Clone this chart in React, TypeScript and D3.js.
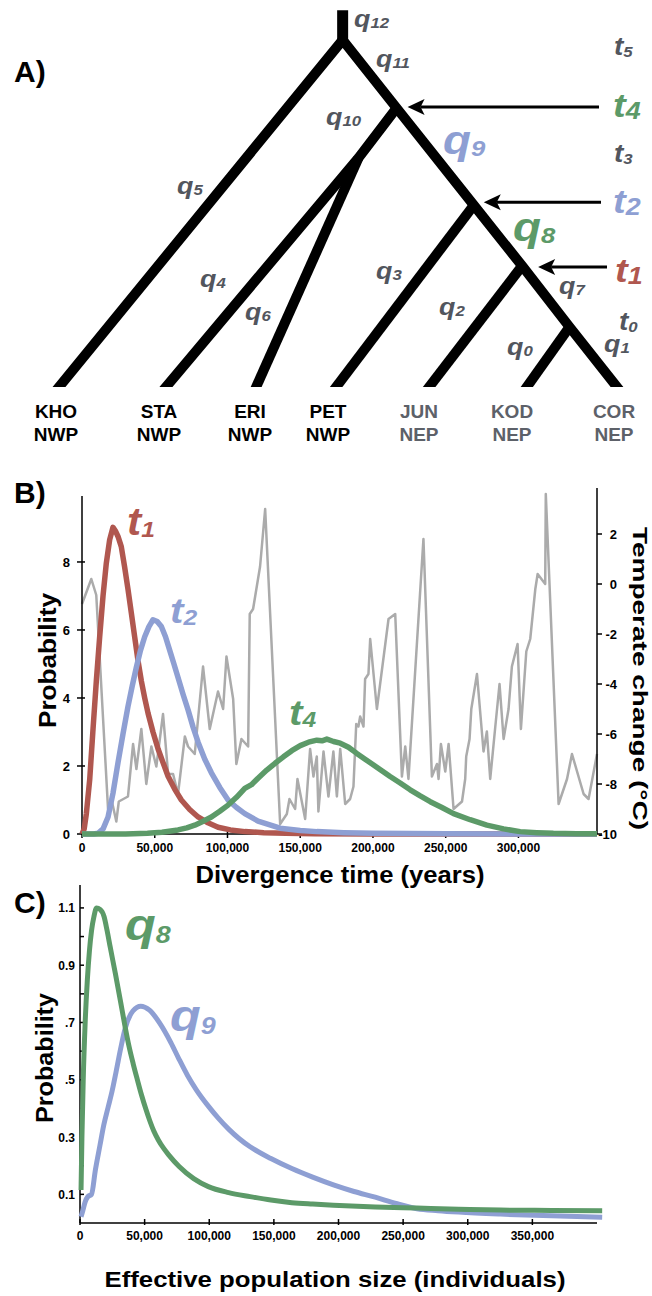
import React from "react";
import * as d3 from "d3";

// ---------------- DATA ----------------
// Panel A: tree
const taxa = ["KHO", "STA", "ERI", "PET", "JUN", "KOD", "COR"];
const regions = ["NWP", "NWP", "NWP", "NWP", "NEP", "NEP", "NEP"];
const nodeNames = ["stemTop", "root", "n4", "n3", "n2", "n1", "n0", "KHO", "STA", "ERI", "PET", "JUN", "KOD", "COR"];
const nodeU = [3.05, 3.05, 3.63, 3.22, 4.46, 4.98, 5.49, 0, 1.15, 2.12, 2.98, 3.98, 5.03, 6];
const nodeH = [1.086, 1, 0.804, 0.66, 0.524, 0.349, 0.173, 0, 0, 0, 0, 0, 0, 0];
const treePaths = [
  ["KHO", "root", "n4", "n2", "n1", "n0", "COR"],
  ["n4", "n3", "STA"],
  ["n3", "ERI"],
  ["n2", "PET"],
  ["n1", "JUN"],
  ["n0", "KOD"],
];

// Panel B: divergence-time posteriors (x in thousands of years)
const t1Years = [0, 1.5, 3, 5.3, 7.6, 9.85, 12.15, 14.45, 16.7, 19, 21.3, 22.9, 24.75, 27, 29.3, 31.6, 33.9, 36.2, 38.5, 40.8, 43.1, 45.4, 48.8, 52.3, 55.7, 59.15, 63.7, 68.3, 74, 79.8, 86.6, 93.5, 102, 112, 125, 140, 160, 200, 250, 300, 354];
const t1Prob = [0, 0.15, 0.6, 1.6, 3.1, 4.5, 5.8, 7.0, 7.96, 8.65, 9.02, 8.92, 8.75, 8.45, 7.85, 7.2, 6.5, 5.8, 5.1, 4.5, 4.0, 3.55, 3.0, 2.5, 2.1, 1.7, 1.32, 1.0, 0.72, 0.5, 0.33, 0.2, 0.12, 0.07, 0.04, 0.02, 0.01, 0, 0, 0, 0];

const t2Years = [0, 8, 11, 14.5, 17.9, 21.3, 24.75, 28.2, 31.6, 34.5, 37.35, 40.2, 43.1, 46, 48.8, 51.7, 54.55, 57.4, 60.3, 63.2, 66, 69.5, 72.9, 76.3, 79.8, 84.4, 88.95, 94.7, 100.4, 106.2, 111.9, 121, 136.2, 150, 161.4, 180, 200, 250, 354];
const t2Prob = [0, 0, 0.02, 0.15, 0.5, 1.2, 2.1, 2.95, 3.75, 4.35, 4.9, 5.4, 5.8, 6.1, 6.3, 6.25, 6.1, 5.8, 5.4, 5.0, 4.6, 4.1, 3.65, 3.15, 2.7, 2.2, 1.8, 1.37, 1.0, 0.78, 0.6, 0.38, 0.17, 0.1, 0.07, 0.04, 0.02, 0.005, 0];

const t4Years = [0, 30, 45, 55, 66, 72, 77.5, 83, 88.95, 94.7, 100.4, 106.2, 111.9, 116.5, 121, 127, 132.7, 138.45, 144.2, 150, 155.7, 161.4, 165, 168.3, 172.9, 177.5, 183.2, 188.9, 194.6, 200.4, 206.1, 211.8, 218.7, 225.6, 232.5, 239.4, 247.4, 255.4, 266.8, 278.3, 289.8, 301.2, 312.6, 324, 340, 354];
const t4Prob = [0, 0, 0.02, 0.05, 0.12, 0.18, 0.26, 0.37, 0.5, 0.67, 0.85, 1.08, 1.34, 1.45, 1.64, 1.88, 2.08, 2.27, 2.45, 2.6, 2.7, 2.76, 2.74, 2.79, 2.72, 2.67, 2.55, 2.37, 2.2, 2.03, 1.86, 1.69, 1.5, 1.3, 1.12, 0.95, 0.78, 0.6, 0.42, 0.26, 0.15, 0.07, 0.04, 0.02, 0.01, 0.005];

// Panel B: temperature record (thousands of years, °C)
const tempYears = [0, 6.4, 9.8, 17.9, 20.2, 23.6, 25.3, 31.6, 35.1, 37.4, 40.8, 44.2, 47.7, 51.1, 55.7, 59.2, 62.6, 66.0, 70.7, 72.9, 77.5, 83.2, 87.8, 93.5, 97.0, 99.3, 103.9, 106.1, 109.6, 114.2, 115.3, 117.6, 122.4, 125.9, 136.2, 140.8, 142.6, 146.5, 148.1, 153.4, 156.8, 159.1, 161.4, 162.5, 166.0, 169.4, 172.8, 175.2, 177.5, 180.9, 184.3, 186.6, 188.5, 190.0, 191.2, 193.5, 194.6, 196.9, 198.1, 202.7, 210.7, 215.3, 219.9, 222.2, 224.4, 234.7, 240.5, 244.0, 245.1, 246.7, 249.7, 252.0, 255.4, 261.2, 263.4, 264.1, 266.4, 267.6, 271.5, 276.0, 278.3, 280.6, 284.1, 287.0, 289.8, 293.2, 295.5, 299.4, 301.7, 305.4, 308.1, 311.6, 313.2, 318.4, 318.8, 327.6, 333.4, 336.8, 344.8, 348.2, 354.0];
const tempC = [-0.8, 0.2, -0.44, -9.0, -8.6, -9.5, -8.7, -8.5, -6.4, -7.4, -5.8, -8.0, -6.5, -7.3, -5.2, -7.6, -7.6, -8.4, -6.1, -6.5, -6.8, -3.3, -5.8, -4.3, -5.0, -2.9, -4.6, -7.2, -6.2, -6.5, -1.2, -1.0, 0.7, 3.0, -9.6, -9.2, -8.6, -9.0, -7.8, -9.4, -6.6, -7.7, -6.9, -9.1, -6.7, -8.5, -6.7, -8.5, -6.6, -8.8, -8.6, -8.1, -5.6, -5.7, -5.3, -5.7, -3.8, -3.6, -2.2, -5.0, -1.4, -1.2, -7.7, -6.5, -7.8, 1.8, -7.7, -7.2, -7.8, -6.4, -7.5, -6.4, -9.0, -8.7, -7.8, -6.9, -6.2, -5.0, -3.6, -6.7, -5.9, -7.8, -5.7, -4.0, -6.2, -5.0, -3.3, -2.4, -5.8, -2.7, -2.2, -0.2, 0.4, 0.0, 3.6, -8.8, -7.8, -6.8, -8.4, -8.6, -6.8];

const bXTicks = [0, 50, 100, 150, 200, 250, 300];
const bYTicks = [0, 2, 4, 6, 8];
const bTempTicks = [-10, -8, -6, -4, -2, 0, 2];

// Panel C: effective population size posteriors (thousands of individuals)
const q8N = [0.8, 1.5, 2.5, 4, 5.7, 7.3, 8.9, 10.8, 12.8, 15.5, 18.6, 21, 23.3, 27.4, 31.5, 34.7, 38, 41.2, 44.4, 47.6, 51, 54, 57, 60.6, 64.5, 68.6, 76.7, 88, 99.3, 115, 131.6, 147.7, 163.9, 180, 196.1, 228.4, 260.7, 293, 325.3, 365, 404];
const q8Prob = [0.115, 0.3, 0.5, 0.7, 0.85, 0.95, 1.02, 1.07, 1.1, 1.095, 1.07, 1.02, 0.965, 0.87, 0.77, 0.69, 0.615, 0.555, 0.5, 0.447, 0.397, 0.357, 0.322, 0.29, 0.262, 0.238, 0.197, 0.155, 0.127, 0.106, 0.092, 0.08, 0.071, 0.066, 0.062, 0.056, 0.052, 0.048, 0.045, 0.044, 0.043];
const q9N = [0.8, 2, 4, 6.1, 8.9, 11.9, 15.4, 18.4, 21.8, 24.8, 28, 31.5, 35, 40.9, 47, 53.8, 61.8, 70.3, 76.3, 83.2, 90, 99.3, 107, 115.4, 123, 131.6, 147.7, 163.9, 180, 196.1, 212, 228.4, 244.5, 260.7, 277, 293, 325.3, 365, 404];
const q9Prob = [0.022, 0.04, 0.074, 0.092, 0.1, 0.185, 0.27, 0.342, 0.405, 0.46, 0.53, 0.61, 0.68, 0.74, 0.757, 0.743, 0.697, 0.63, 0.575, 0.515, 0.465, 0.408, 0.366, 0.326, 0.295, 0.266, 0.225, 0.19, 0.16, 0.133, 0.11, 0.09, 0.068, 0.05, 0.043, 0.038, 0.031, 0.025, 0.02];

const cXTicks = [0, 50, 100, 150, 200, 250, 300, 350];
const cYTicks = [0.1, 0.2, 0.3, 0.4, 0.5, 0.6, 0.7, 0.8, 0.9, 1.0, 1.1];
const cYLabels = ["0.1", "", "0.3", "", ".5", "", ".7", "", "0.9", "", "1.1"];

// ---------------- STYLE ----------------
const FONT = "'Liberation Sans', Arial, Helvetica, sans-serif";
const RED = "#b0574f";
const BLUE = "#8e9fd3";
const GREEN = "#5c9a68";
const GRAYLINE = "#ababab";
const LGRAY = "#52565e";
const NEPGRAY = "#5d6169";

function Sym({ x, y, m, s, size, sub, color, sx = 1.12 }: any) {
  return (
    <text
      transform={`translate(${x},${y}) scale(${sx},1)`}
      fontFamily={FONT}
      fontWeight="bold"
      fontStyle="italic"
      fontSize={size}
      fill={color}
    >
      {m}
      <tspan fontSize={sub} dy={size * 0.06}>
        {s}
      </tspan>
    </text>
  );
}

function Arrow({ x1, x2, y }: any) {
  const d = `M${x2},${y} L${x2 + 17},${y - 8} L${x2 + 13},${y} L${x2 + 17},${y + 8} Z`;
  return (
    <g>
      <line x1={x1} x2={x2 + 13} y1={y} y2={y} stroke="#000" strokeWidth={3} />
      <path d={d} fill="#000" />
    </g>
  );
}

export default function App() {
  const tx = d3.scaleLinear().domain([0, 6]).range([59, 617]);
  const ty = d3.scaleLinear().domain([0, 1]).range([387, 40]);
  const node = (n: string) => {
    const i = nodeNames.indexOf(n);
    return [tx(nodeU[i]), ty(nodeH[i])] as [number, number];
  };
  const tipExt = (a: [number, number], b: [number, number]) => {
    const dx = b[0] - a[0], dy = b[1] - a[1];
    const k = 12 / dy;
    return [b[0] + dx * k, b[1] + 12] as [number, number];
  };
  const treeLine = d3.line();
  const pathsD = treePaths.map((p) => {
    const pts = p.map(node);
    const out = [...pts];
    if (nodeH[nodeNames.indexOf(p[p.length - 1])] === 0)
      out[out.length - 1] = tipExt(pts[pts.length - 2], pts[pts.length - 1]);
    if (nodeH[nodeNames.indexOf(p[0])] === 0) out[0] = tipExt(pts[1], pts[0]);
    return treeLine(out);
  });
  const stemTop = node("stemTop");
  const root = node("root");

  const bx = d3.scaleLinear().domain([0, 354]).range([82, 597]);
  const by = d3.scaleLinear().domain([0, 9.94]).range([834, 496]);
  const bT = d3.scaleLinear().domain([-10, 3.84]).range([834, 488]);
  const bLine = (xs: number[], ys: number[], yScale: any) =>
    d3
      .line<number>()
      .x((_, i) => bx(xs[i]))
      .y((v) => yScale(v))(ys);

  const cx = d3.scaleLinear().domain([0, 400]).range([80, 597]);
  const cy = d3.scaleLinear().domain([0, 1.18]).range([1223, 885]);
  const cLine = (xs: number[], ys: number[]) =>
    d3
      .line<number>()
      .x((_, i) => cx(xs[i]))
      .y((v) => cy(v))
      .curve(d3.curveMonotoneX)(ys);

  const fmt = (d: number) => d3.format(",")(d * 1000);
  const n4 = node("n4"), n2 = node("n2"), n1 = node("n1");
  const tipX = [56, 159, 250, 328, 419, 512, 614];

  return (
    <svg
      width={652}
      height={1296}
      style={{ position: "absolute", left: 0, top: 0, background: "#fff" }}
      fontFamily={FONT}
    >
      <rect x={0} y={0} width={652} height={1296} fill="#fff" />
      <defs>
        <clipPath id="treeClip">
          <rect x={0} y={stemTop[1]} width={652} height={387 - stemTop[1]} />
        </clipPath>
      </defs>

      {/* ---------- Panel A ---------- */}
      <text x={14} y={82} fontSize={30} fontWeight="bold">A)</text>
      <g clipPath="url(#treeClip)">
        <line x1={stemTop[0]} x2={root[0]} y1={stemTop[1] - 5} y2={root[1] + 4} stroke="#000" strokeWidth={11} />
        {pathsD.map((d, i) => (
          <path key={i} d={d as string} fill="none" stroke="#000" strokeWidth={10} strokeLinejoin="miter" />
        ))}
      </g>
      {taxa.map((t, i) => {
        const col = regions[i] === "NWP" ? "#000" : NEPGRAY;
        return (
          <g key={t} fill={col} fontWeight="bold" fontSize={19} textAnchor="middle">
            <text x={tipX[i]} y={418}>{t}</text>
            <text x={tipX[i]} y={441}>{regions[i]}</text>
          </g>
        );
      })}
      <Arrow x1={599} x2={n4[0] + 11} y={n4[1] - 1} />
      <Arrow x1={601} x2={n2[0] + 10} y={n2[1] - 3} />
      <Arrow x1={607} x2={n1[0] + 16} y={n1[1] + 1} />

      <Sym x={354} y={27} m="q" s="12" size={24} sub={15} color={LGRAY} />
      <Sym x={376} y={67} m="q" s="11" size={24} sub={15} color={LGRAY} />
      <Sym x={326} y={125} m="q" s="10" size={24} sub={15} color={LGRAY} />
      <Sym x={177} y={194} m="q" s="5" size={24} sub={15} color={LGRAY} />
      <Sym x={200} y={287} m="q" s="4" size={24} sub={15} color={LGRAY} />
      <Sym x={245} y={320} m="q" s="6" size={24} sub={15} color={LGRAY} />
      <Sym x={376} y={279} m="q" s="3" size={24} sub={15} color={LGRAY} />
      <Sym x={439} y={315} m="q" s="2" size={24} sub={15} color={LGRAY} />
      <Sym x={559} y={294} m="q" s="7" size={24} sub={15} color={LGRAY} />
      <Sym x={604} y={352} m="q" s="1" size={24} sub={15} color={LGRAY} />
      <Sym x={507} y={355} m="q" s="0" size={24} sub={15} color={LGRAY} />
      <Sym x={614} y={55} m="t" s="5" size={25} sub={15} color={LGRAY} />
      <Sym x={614} y={162} m="t" s="3" size={25} sub={15} color={LGRAY} />
      <Sym x={619} y={330} m="t" s="0" size={25} sub={15} color={LGRAY} />

      <Sym x={443} y={154} m="q" s="9" size={41} sub={23} color={BLUE} />
      <Sym x={513} y={241} m="q" s="8" size={41} sub={23} color={GREEN} />
      <Sym x={613} y={117} m="t" s="4" size={34} sub={24} color={GREEN} />
      <Sym x={613} y={213} m="t" s="2" size={34} sub={24} color={BLUE} />
      <Sym x={615} y={282} m="t" s="1" size={34} sub={24} color={RED} />

      {/* ---------- Panel B ---------- */}
      <text x={14} y={503} fontSize={30} fontWeight="bold">B)</text>
      <path d={bLine(tempYears, tempC, bT) as string} fill="none" stroke={GRAYLINE} strokeWidth={2.5} strokeLinejoin="round" />
      <line x1={82} x2={82} y1={496} y2={834} stroke="#000" strokeWidth={1.5} />
      <line x1={597} x2={597} y1={488} y2={834} stroke="#000" strokeWidth={1.5} />
      <line x1={82} x2={597} y1={834} y2={834} stroke="#000" strokeWidth={1.5} />
      {bYTicks.map((v) => (
        <g key={v}>
          <line x1={77} x2={85} y1={by(v)} y2={by(v)} stroke="#000" strokeWidth={1.5} />
          <text x={70} y={by(v) + 5} fontSize={13} fontWeight="bold" textAnchor="end">{v}</text>
        </g>
      ))}
      {bTempTicks.map((v) => (
        <g key={v}>
          <line x1={597} x2={602} y1={bT(v)} y2={bT(v)} stroke="#000" strokeWidth={1.5} />
          <text x={617} y={bT(v) + 5} fontSize={13} fontWeight="bold" textAnchor="end">{v}</text>
        </g>
      ))}
      {bXTicks.map((v) => (
        <g key={v}>
          <line x1={bx(v)} x2={bx(v)} y1={831} y2={838} stroke="#000" strokeWidth={1.5} />
          <text x={bx(v)} y={852} fontSize={12} fontWeight="bold" textAnchor="middle">{fmt(v)}</text>
        </g>
      ))}
      <path d={bLine(t1Years, t1Prob, by) as string} fill="none" stroke={RED} strokeWidth={5.5} strokeLinejoin="round" />
      <path d={bLine(t2Years, t2Prob, by) as string} fill="none" stroke={BLUE} strokeWidth={5.5} strokeLinejoin="round" />
      <path d={bLine(t4Years, t4Prob, by) as string} fill="none" stroke={GREEN} strokeWidth={5.5} strokeLinejoin="round" />
      <Sym x={127} y={535} m="t" s="1" size={38} sub={22} color={RED} />
      <Sym x={170} y={623} m="t" s="2" size={36} sub={22} color={BLUE} />
      <Sym x={289} y={725} m="t" s="4" size={36} sub={22} color={GREEN} />

      <text transform="translate(56,660.5) rotate(-90)" fontSize={24} fontWeight="bold" textAnchor="middle" textLength={135} lengthAdjust="spacingAndGlyphs">Probability</text>
      <text transform="translate(633,678.5) rotate(90)" fontSize={21} fontWeight="bold" textAnchor="middle" textLength={303} lengthAdjust="spacingAndGlyphs">Temperate change (°C)</text>
      <text x={340} y={883} fontSize={23} fontWeight="bold" textAnchor="middle" textLength={289} lengthAdjust="spacingAndGlyphs">Divergence time (years)</text>

      {/* ---------- Panel C ---------- */}
      <text x={14} y={913} fontSize={30} fontWeight="bold">C)</text>
      <line x1={80} x2={80} y1={885} y2={1223} stroke="#000" strokeWidth={1.5} />
      <line x1={80} x2={597} y1={1223} y2={1223} stroke="#000" strokeWidth={1.5} />
      {cYTicks.map((v, i) => (
        <g key={v}>
          <line x1={80} x2={84} y1={cy(v)} y2={cy(v)} stroke="#000" strokeWidth={1.5} />
          {cYLabels[i] && (
            <text x={75} y={cy(v) + 4.5} fontSize={12} fontWeight="bold" textAnchor="end">{cYLabels[i]}</text>
          )}
        </g>
      ))}
      {cXTicks.map((v) => (
        <g key={v}>
          <line x1={cx(v)} x2={cx(v)} y1={1219} y2={1225} stroke="#000" strokeWidth={1.5} />
          <text x={cx(v)} y={1240} fontSize={12} fontWeight="bold" textAnchor="middle">{fmt(v)}</text>
        </g>
      ))}
      <path d={cLine(q9N, q9Prob) as string} fill="none" stroke={BLUE} strokeWidth={5} />
      <path d={cLine(q8N, q8Prob) as string} fill="none" stroke={GREEN} strokeWidth={5} />
      <Sym x={125} y={940} m="q" s="8" size={45} sub={24} color={GREEN} />
      <Sym x={170} y={1031} m="q" s="9" size={45} sub={24} color={BLUE} />
      <text transform="translate(53,1058) rotate(-90)" fontSize={24} fontWeight="bold" textAnchor="middle" textLength={130} lengthAdjust="spacingAndGlyphs">Probability</text>
      <text x={335} y={1287} fontSize={22} fontWeight="bold" textAnchor="middle" textLength={461} lengthAdjust="spacingAndGlyphs">Effective population size (individuals)</text>
    </svg>
  );
}
